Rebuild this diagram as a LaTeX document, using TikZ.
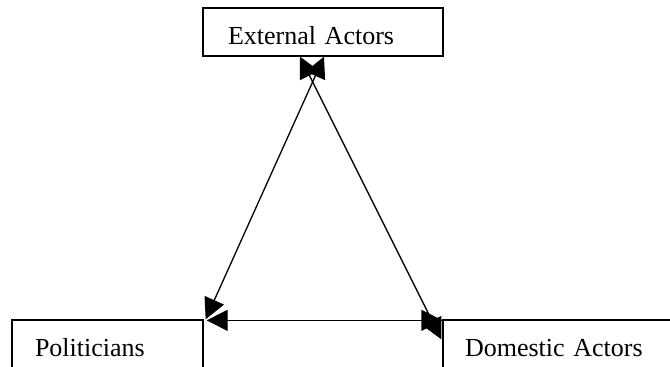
\documentclass[tikz,border=0pt]{standalone}
\usepackage{fontspec}
\setmainfont{Liberation Serif}
\usetikzlibrary{arrows.meta}
\tikzset{
  box/.style  = {rectangle, draw, line width=1.3pt, fill=white, align=left,
                 minimum height=48pt, text height=24pt, text depth=0pt,
                 font=\fontsize{26}{30}\selectfont},
  link/.style = {line width=1.3pt, <->, >={Triangle[length=21pt,width=21pt]}},
}

\begin{document}
\begin{tikzpicture}[x=1pt, y=-1pt]

    \path[use as bounding box, clip] (0,0) rectangle (670,367);

    %% Actors
    \node[box, inner xsep=25pt, text width=190pt] (ext) at (323,32)    {External Actors};
    \node[box, inner xsep=23pt, text width=145pt] (pol) at (107.5,344) {Politicians};
    \node[box, inner xsep=22pt, text width=196pt] (dom) at (563,344)   {Domestic Actors};

    %% Links
    \draw[link] ([xshift=1pt]ext.south)   -- ([xshift=2pt]pol.north east);
    \draw[link] ([xshift=-23pt]ext.south) -- ([xshift=-1pt,yshift=-20pt]dom.north west);
    \draw[link] ([xshift=3pt,yshift=-1pt]pol.north east) -- ([yshift=-1pt]dom.north west);

\end{tikzpicture}
\end{document}
